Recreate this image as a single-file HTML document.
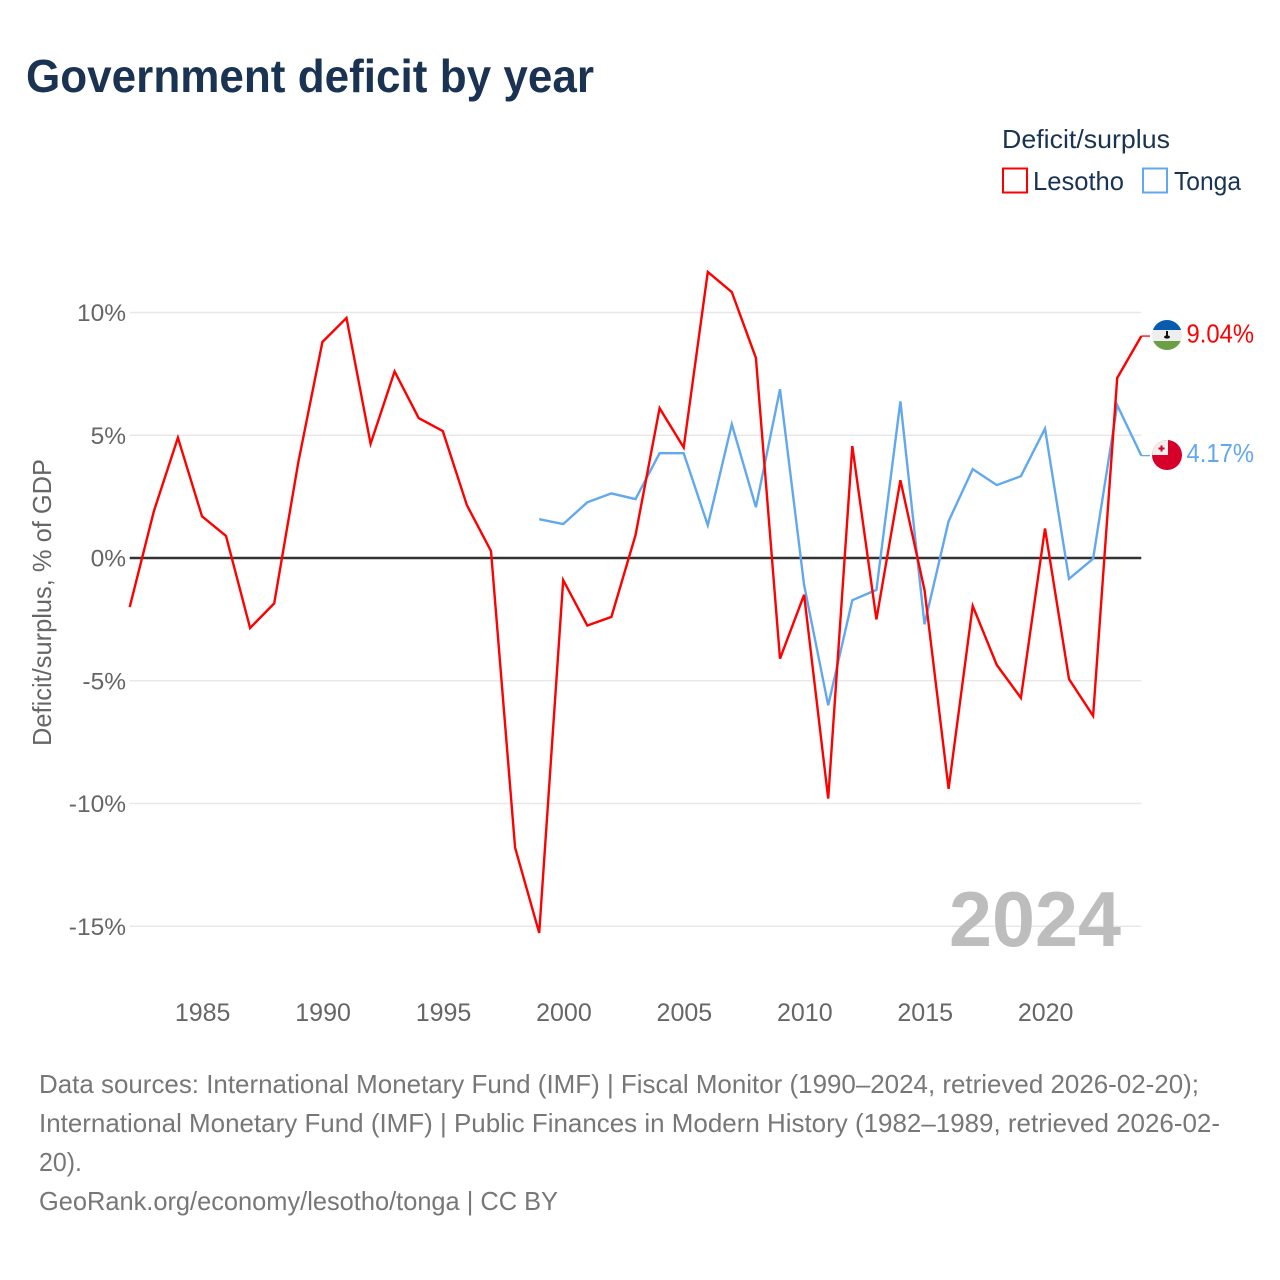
<!DOCTYPE html>
<html lang="en">
<head>
<meta charset="utf-8">
<title>Government deficit by year</title>
<style>
html,body{margin:0;padding:0;background:#fff;}
svg{display:block;font-family:"Liberation Sans",sans-serif;}
</style>
</head>
<body>
<svg id="chart" width="1280" height="1280" viewBox="0 0 1280 1280" xmlns="http://www.w3.org/2000/svg">
  <rect x="0" y="0" width="1280" height="1280" fill="#ffffff"/>
  <text x="26" y="92" font-size="46" font-weight="700" fill="#1a3352" textLength="568" lengthAdjust="spacingAndGlyphs">Government deficit by year</text>

  <text x="1002" y="148" font-size="26" fill="#1a3352" textLength="168" lengthAdjust="spacingAndGlyphs">Deficit/surplus</text>
  <rect x="1003" y="168.5" width="24" height="24" fill="none" stroke="#ff0000" stroke-width="2"/>
  <text x="1033" y="190" font-size="26" fill="#1a3352" textLength="91" lengthAdjust="spacingAndGlyphs">Lesotho</text>
  <rect x="1143" y="168.5" width="24" height="24" fill="none" stroke="#62a8ee" stroke-width="2"/>
  <text x="1174" y="190" font-size="26" fill="#1a3352" textLength="67" lengthAdjust="spacingAndGlyphs">Tonga</text>

  <text transform="translate(51,746) rotate(-90)" font-size="26" fill="#666666" textLength="287" lengthAdjust="spacingAndGlyphs">Deficit/surplus, % of GDP</text>

  <g id="grid"></g>
  <g id="y-ticks"></g>
  <g id="x-ticks"></g>

  <text x="949" y="946" font-size="78" font-weight="700" fill="#bdbdbd" textLength="172" lengthAdjust="spacingAndGlyphs">2024</text>

  <g id="series"></g>

  <defs>
    <clipPath id="clip-ls"><circle cx="1167" cy="335" r="15"/></clipPath>
    <clipPath id="clip-to"><circle cx="1167" cy="455" r="15"/></clipPath>
  </defs>
  <g id="flag-lesotho" clip-path="url(#clip-ls)">
    <rect x="1152" y="320" width="30" height="30" fill="#eeeeee"/>
    <rect x="1152" y="320" width="30" height="10" fill="#0a5bb0"/>
    <rect x="1152" y="341" width="30" height="9" fill="#6a9f45"/>
    <rect x="1166" y="331" width="2" height="5" fill="#111111"/>
    <ellipse cx="1167" cy="337" rx="3" ry="1.6" fill="#111111"/>
  </g>
  <g id="flag-tonga" clip-path="url(#clip-to)">
    <rect x="1152" y="440" width="30" height="30" fill="#d6002a"/>
    <rect x="1152" y="440" width="16" height="15" fill="#eeeeee"/>
    <rect x="1158.5" y="447.5" width="6" height="2" fill="#d6002a"/>
    <rect x="1160.5" y="445.5" width="2" height="6" fill="#d6002a"/>
  </g>

  <g font-size="26" fill="#777777">
    <text x="39" y="1093" textLength="1160" lengthAdjust="spacingAndGlyphs">Data sources: International Monetary Fund (IMF) | Fiscal Monitor (1990–2024, retrieved 2026-02-20);</text>
    <text x="39" y="1132" textLength="1181" lengthAdjust="spacingAndGlyphs">International Monetary Fund (IMF) | Public Finances in Modern History (1982–1989, retrieved 2026-02-</text>
    <text x="39" y="1171" textLength="43" lengthAdjust="spacingAndGlyphs">20).</text>
    <text x="39" y="1210" textLength="519" lengthAdjust="spacingAndGlyphs">GeoRank.org/economy/lesotho/tonga | CC BY</text>
  </g>
</svg>
<script>
const lesothoYears = [1982,1983,1984,1985,1986,1987,1988,1989,1990,1991,1992,1993,1994,1995,1996,1997,1998,1999,2000,2001,2002,2003,2004,2005,2006,2007,2008,2009,2010,2011,2012,2013,2014,2015,2016,2017,2018,2019,2020,2021,2022,2023,2024];
const lesothoValues = [-2.0,1.9,4.9,1.7,0.9,-2.85,-1.85,3.9,8.8,9.78,4.65,7.6,5.7,5.17,2.15,0.28,-11.8,-15.27,-0.9,-2.75,-2.4,0.93,6.1,4.5,11.65,10.83,8.15,-4.1,-1.5,-9.8,4.56,-2.5,3.17,-1.3,-9.4,-1.95,-4.36,-5.7,1.2,-4.93,-6.43,7.33,9.04];
const tongaYears = [1999,2000,2001,2002,2003,2004,2005,2006,2007,2008,2009,2010,2011,2012,2013,2014,2015,2016,2017,2018,2019,2020,2021,2022,2023,2024];
const tongaValues = [1.58,1.38,2.27,2.63,2.4,4.27,4.27,1.33,5.45,2.07,6.87,-1.1,-6.0,-1.72,-1.3,6.38,-2.7,1.5,3.62,2.97,3.33,5.27,-0.85,-0.03,6.23,4.17];
const yTickValues = [10,5,0,-5,-10,-15];
const xTickYears = [1985,1990,1995,2000,2005,2010,2015,2020];

const NS = 'http://www.w3.org/2000/svg';
const xMin = 1982, xMax = 2024, xLeft = 129.7, xRight = 1141.3;
const yZero = 558, yPerUnit = 24.55;
function xScale(year){ return xLeft + (year - xMin) * (xRight - xLeft) / (xMax - xMin); }
function yScale(value){ return yZero - value * yPerUnit; }
function make(tag, attrs, text){
  const el = document.createElementNS(NS, tag);
  for (const k in attrs) el.setAttribute(k, attrs[k]);
  if (text !== undefined) el.textContent = text;
  return el;
}
const grid = document.getElementById('grid');
const yTicks = document.getElementById('y-ticks');
const xTicks = document.getElementById('x-ticks');
const series = document.getElementById('series');

yTickValues.forEach(function(v){
  if (v === 0) return;
  const line = make('line', {x1:xLeft, x2:xRight, y1:yScale(v), y2:yScale(v), stroke:'#e8e8e8', 'stroke-width':1.5});
  
  
  grid.appendChild(line);
});
const zeroLine = make('line', {x1:xLeft, x2:xRight, y1:yScale(0), y2:yScale(0), stroke:'#333333', 'stroke-width':2.5});


grid.appendChild(zeroLine);

yTickValues.forEach(function(v){
  const t = make('text', {x:126, y:yScale(v)+8.5, 'text-anchor':'end', 'font-size':24.5, fill:'#666666'}, v + '%');
  
  
  yTicks.appendChild(t);
});
xTickYears.forEach(function(y){
  const t = make('text', {x:xScale(y)+0.7, y:1021, 'text-anchor':'middle', 'font-size':25, fill:'#666666'}, String(y));
  
  
  xTicks.appendChild(t);
});

function drawSeries(years, values, color, seriesName){
  const pts = years.map(function(y, i){ return xScale(y).toFixed(1) + ',' + yScale(values[i]).toFixed(1); });
  const lastY = yScale(values[values.length - 1]);
  const line = make('polyline', {points:pts.join(' '), fill:'none', stroke:color, 'stroke-width':2.4, 'stroke-linejoin':'miter'});
  
  
  series.appendChild(line);
  const stub = make('line', {x1:xRight, x2:1150, y1:lastY, y2:lastY, stroke:color, 'stroke-width':1.3});
  
  
  series.appendChild(stub);
  const label = make('text', {x:1186.5, y:lastY+6.5, 'font-size':26, fill:color, textLength:67.5, lengthAdjust:'spacingAndGlyphs'}, values[values.length - 1].toFixed(2) + '%');
  
  
  series.appendChild(label);
}
drawSeries(tongaYears, tongaValues, '#62a8ee', 'tonga');
drawSeries(lesothoYears, lesothoValues, '#ff0000', 'lesotho');
</script>
</body>
</html>
